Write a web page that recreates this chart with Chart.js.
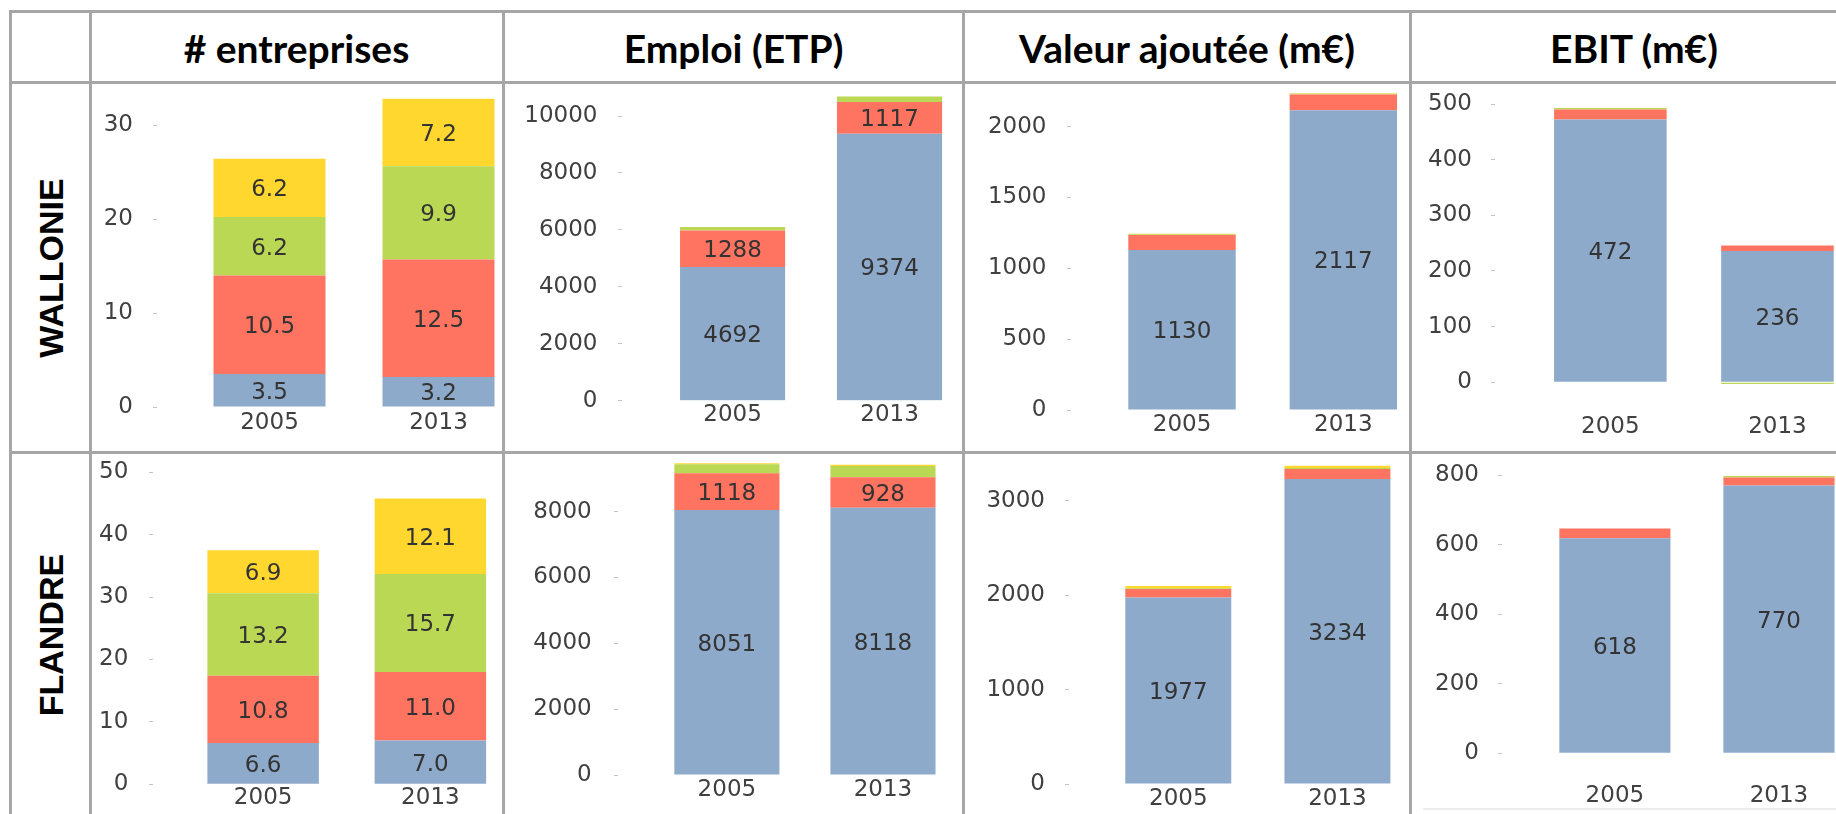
<!DOCTYPE html>
<html><head><meta charset="utf-8">
<script src="https://cdn.jsdelivr.net/npm/chart.js@4.4.0/dist/chart.umd.min.js"></script>
<style>
html,body{margin:0;padding:0;width:1836px;height:814px;overflow:hidden;background:#fff;position:relative;}
.line{position:absolute;background:#a6a6a6;}
.hdr{position:absolute;font-family:Lato,sans-serif;font-weight:bold;font-size:39px;color:#000;transform:translate(-50%,-50%);white-space:nowrap;line-height:1;}
.row{position:absolute;font-family:'Liberation Sans',Arial,sans-serif;font-weight:bold;font-size:34px;color:#000;transform:translate(-50%,-50%) rotate(-90deg);white-space:nowrap;line-height:1;}
canvas{position:absolute;}
</style></head><body>
<script>
// ---- categories ----
const categories = ['2005', '2013'];

// ---- tick labels ----
const ticksWalEnt = [0, 10, 20, 30];
const ticksWalEmp = [0, 2000, 4000, 6000, 8000, 10000];
const ticksWalVa = [0, 500, 1000, 1500, 2000];
const ticksWalEbit = [0, 100, 200, 300, 400, 500];
const ticksFlaEnt = [0, 10, 20, 30, 40, 50];
const ticksFlaEmp = [0, 2000, 4000, 6000, 8000];
const ticksFlaVa = [0, 1000, 2000, 3000];
const ticksFlaEbit = [0, 200, 400, 600, 800];

// ---- series values (segment 1 = blue, 2 = red, 3 = green, 4 = yellow) ----
const walEnt1 = [3.5, 3.2],   walEnt2 = [10.5, 12.5], walEnt3 = [6.2, 9.9],  walEnt4 = [6.2, 7.2];
const walEmp1 = [4692, 9374], walEmp2 = [1288, 1117], walEmp3 = [120, 190],  walEmp4 = [0, 0];
const walVa1  = [1130, 2117], walVa2  = [106, 111],   walVa3  = [5, 5],      walVa4  = [3, 3];
const walEbit1 = [472, 236],  walEbit2 = [18, 10],    walEbit3 = [3, -3],    walEbit4 = [0, 0];
const flaEnt1 = [6.6, 7.0],   flaEnt2 = [10.8, 11.0], flaEnt3 = [13.2, 15.7], flaEnt4 = [6.9, 12.1];
const flaEmp1 = [8051, 8118], flaEmp2 = [1118, 928],  flaEmp3 = [270, 340],  flaEmp4 = [30, 40];
const flaVa1  = [1977, 3234], flaVa2  = [89, 106],    flaVa3  = [10, 10],    flaVa4  = [22, 25];
const flaEbit1 = [618, 770],  flaEbit2 = [28, 23],    flaEbit3 = [0, 4],     flaEbit4 = [0, 0];

const headers = ['# entreprises', 'Emploi (ETP)', 'Valeur ajoutée (m€)', 'EBIT (m€)'];
const rowNames = ['WALLONIE', 'FLANDRE'];

const COLORS = ['#8eaacb', '#ff7461', '#bbd854', '#ffd72f'];

// ---- table frame ----
function addLine(l, t, w, h, color) {
  const d = document.createElement('div');
  d.className = 'line';
  d.style.left = l + 'px'; d.style.top = t + 'px'; d.style.width = w + 'px'; d.style.height = h + 'px';
  if (color) d.style.background = color;
  document.body.appendChild(d);
}
[10, 81, 451].forEach(y => addLine(9, y, 1830, 3));
[9, 89, 502, 962, 1409].forEach(x => addLine(x, 10, 3, 810));
addLine(1423, 808, 413, 2, '#ececec');

const hdrX = [296.5, 733.5, 1187, 1634];
headers.forEach((h, i) => {
  const d = document.createElement('div');
  d.className = 'hdr'; d.textContent = h;
  d.style.left = hdrX[i] + 'px'; d.style.top = '48px';
  document.body.appendChild(d);
});
const rowY = [268, 635];
rowNames.forEach((r, i) => {
  const d = document.createElement('div');
  d.className = 'row'; d.textContent = r;
  d.style.left = '51px'; d.style.top = rowY[i] + 'px';
  document.body.appendChild(d);
});

// ---- segment value labels ----
const segLabels = {
  id: 'segLabels',
  afterDatasetsDraw(chart, args, opts) {
    const ctx = chart.ctx;
    ctx.save();
    ctx.font = '23px "DejaVu Sans"';
    ctx.fillStyle = '#333';
    ctx.textAlign = 'center';
    ctx.textBaseline = 'alphabetic';
    for (let d = 0; d < opts.count; d++) {
      const meta = chart.getDatasetMeta(d);
      meta.data.forEach((el, i) => {
        const v = chart.data.datasets[d].data[i];
        ctx.fillText(v.toFixed(opts.decimals), el.x, (el.y + el.base) / 2 + 8.4);
      });
    }
    ctx.restore();
  }
};

const panels = [
  {series: [walEnt1, walEnt2, walEnt3, walEnt4], ticks: ticksWalEnt, count: 4, decimals: 1,
   cellLeft: 92, zeroY: 407, topTickY: 125, areaTop: 88, minVal: 0, c1: 269.5, c2: 438.5, barW: 112, dashX: 153, labelRight: 133, xLabelY: 423},
  {series: [walEmp1, walEmp2, walEmp3, walEmp4], ticks: ticksWalEmp, count: 2, decimals: 0,
   cellLeft: 505, zeroY: 400.7, topTickY: 116, areaTop: 88, minVal: 0, c1: 732.5, c2: 889.3, barW: 105, dashX: 618, labelRight: 597.5, xLabelY: 415},
  {series: [walVa1, walVa2, walVa3, walVa4], ticks: ticksWalVa, count: 1, decimals: 0,
   cellLeft: 965, zeroY: 410, topTickY: 126.7, areaTop: 88, minVal: 0, c1: 1182, c2: 1343.3, barW: 107.4, dashX: 1067, labelRight: 1046.5, xLabelY: 425},
  {series: [walEbit1, walEbit2, walEbit3, walEbit4], ticks: ticksWalEbit, count: 1, decimals: 0,
   cellLeft: 1412, zeroY: 382.3, topTickY: 104, areaTop: 88, minVal: -6, c1: 1610.3, c2: 1777.3, barW: 112.5, dashX: 1491, labelRight: 1472, xLabelY: 426.7},
  {series: [flaEnt1, flaEnt2, flaEnt3, flaEnt4], ticks: ticksFlaEnt, count: 4, decimals: 1,
   cellLeft: 92, zeroY: 784.3, topTickY: 472.3, areaTop: 458, minVal: 0, c1: 263, c2: 430, barW: 111.3, dashX: 149, labelRight: 128.3, xLabelY: 798},
  {series: [flaEmp1, flaEmp2, flaEmp3, flaEmp4], ticks: ticksFlaEmp, count: 2, decimals: 0,
   cellLeft: 505, zeroY: 775, topTickY: 511.7, areaTop: 458, minVal: 0, c1: 726.8, c2: 882.7, barW: 105, dashX: 614, labelRight: 591.7, xLabelY: 790},
  {series: [flaVa1, flaVa2, flaVa3, flaVa4], ticks: ticksFlaVa, count: 1, decimals: 0,
   cellLeft: 965, zeroY: 784, topTickY: 501, areaTop: 458, minVal: 0, c1: 1178.3, c2: 1337.5, barW: 106, dashX: 1065, labelRight: 1045, xLabelY: 799},
  {series: [flaEbit1, flaEbit2, flaEbit3, flaEbit4], ticks: ticksFlaEbit, count: 1, decimals: 0,
   cellLeft: 1412, zeroY: 753.3, topTickY: 475, areaTop: 458, minVal: 0, c1: 1614.8, c2: 1778.7, barW: 111, dashX: 1498, labelRight: 1479, xLabelY: 796}
];

function makePanel(p) {
  const tickMax = p.ticks[p.ticks.length - 1];
  const ppu = (p.zeroY - p.topTickY) / tickMax;
  const maxVal = (p.zeroY - p.areaTop) / ppu;
  const areaBottom = p.zeroY + (-p.minVal) * ppu;
  const s = p.c2 - p.c1;
  const AL = p.c1 - s / 2, AR = p.c2 + s / 2;
  const PADTOP = 60;
  const L = p.cellLeft, T = p.areaTop - PADTOP, B = p.xLabelY + 40;
  const W = Math.round(AR - L), H = Math.round(B - T);
  const cv = document.createElement('canvas');
  cv.width = W; cv.height = H;
  cv.style.left = L + 'px'; cv.style.top = T + 'px';
  cv.style.width = W + 'px'; cv.style.height = H + 'px';
  document.body.appendChild(cv);
  const yWidth = AL - L;
  const xHeight = H - (areaBottom - T);
  const tl = AL - p.dashX;
  new Chart(cv, {
    type: 'bar',
    data: {
      labels: categories,
      datasets: p.series.map((arr, i) => ({
        data: arr, backgroundColor: COLORS[i], borderWidth: 0,
        barPercentage: p.barW / s, categoryPercentage: 1, stack: 's'
      }))
    },
    options: {
      responsive: false, animation: false, devicePixelRatio: 1,
      layout: {padding: {top: PADTOP, left: 0, right: 0, bottom: 0}},
      plugins: {legend: {display: false}, tooltip: {enabled: false}, segLabels: {count: p.count, decimals: p.decimals}},
      scales: {
        x: {
          stacked: true, offset: true,
          grid: {display: false, drawTicks: false},
          border: {display: false},
          ticks: {color: '#404040', font: {family: 'DejaVu Sans', size: 23, lineHeight: 1},
                  padding: p.xLabelY - areaBottom - 11.5, maxRotation: 0, autoSkip: false},
          afterFit: sc => { sc.height = xHeight; }
        },
        y: {
          stacked: true, min: p.minVal, max: maxVal,
          border: {display: false},
          grid: {drawOnChartArea: false, drawTicks: true, tickLength: tl, tickColor: '#c4c4c4', tickWidth: 1, tickBorderDash: [4, 3000]},
          ticks: {color: '#404040', font: {family: 'DejaVu Sans', size: 23, lineHeight: 1},
                  padding: p.dashX - p.labelRight, callback: v => String(v)},
          afterBuildTicks: ax => { ax.ticks = p.ticks.map(v => ({value: v})); },
          afterFit: sc => { sc.width = yWidth; }
        }
      }
    },
    plugins: [segLabels]
  });
}
panels.forEach(makePanel);
</script>
</body></html>
